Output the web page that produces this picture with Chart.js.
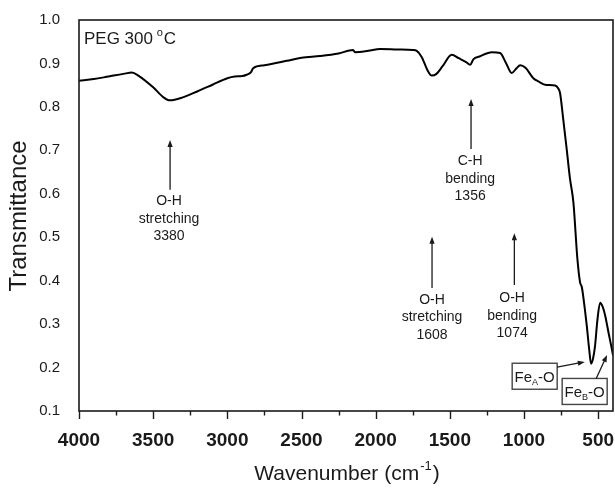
<!DOCTYPE html>
<html>
<head>
<meta charset="utf-8">
<script src="https://cdn.jsdelivr.net/npm/chart.js@4.4.1/dist/chart.umd.min.js"></script>
<style>
  html, body { margin: 0; padding: 0; background: #fff; }
  #wrap { width: 615px; height: 488px; }
</style>
</head>
<body>
<div id="wrap"><canvas id="ftirChart" width="615" height="488"></canvas></div>
<script>
// ---------------------------------------------
// Spectrum data
// ---------------------------------------------
const wavenumber = [
  4000, 3900, 3800, 3700, 3643, 3600, 3500, 3430, 3386, 3300,
  3200, 3100, 3000, 2950, 2900, 2870, 2840, 2826, 2750, 2600,
  2500, 2375, 2250, 2152, 2140, 2050, 1970, 1850, 1750, 1723,
  1690, 1650, 1622, 1590, 1550, 1487, 1440, 1390, 1363, 1340,
  1300, 1217, 1161, 1120, 1083, 1050, 1026, 990, 937, 900,
  858, 790, 770, 757, 735, 712, 690, 667, 640, 622,
  610, 590, 577, 560, 548, 535, 521, 505, 487, 470,
  453, 430, 408, 400
];
const transmittance = [
  0.860, 0.864, 0.870, 0.876, 0.879, 0.872, 0.845, 0.822, 0.815, 0.822,
  0.836, 0.851, 0.866, 0.870, 0.871, 0.874, 0.880, 0.889, 0.896, 0.906,
  0.913, 0.917, 0.923, 0.931, 0.926, 0.929, 0.933, 0.932, 0.931, 0.929,
  0.915, 0.884, 0.872, 0.876, 0.893, 0.920, 0.912, 0.903, 0.897, 0.910,
  0.916, 0.926, 0.924, 0.900, 0.878, 0.889, 0.896, 0.890, 0.866, 0.858,
  0.851, 0.849, 0.843, 0.832, 0.770, 0.702, 0.635, 0.580, 0.450, 0.396,
  0.385, 0.335, 0.297, 0.240, 0.209, 0.220, 0.250, 0.310, 0.349, 0.340,
  0.320, 0.280, 0.243, 0.228
];
const xTickLabels = [4000, 3500, 3000, 2500, 2000, 1500, 1000, 500];
const yTickLabels = ['0.1', '0.2', '0.3', '0.4', '0.5', '0.6', '0.7', '0.8', '0.9', '1.0'];

// peak labels: arrow x, arrow tail/tip (transmittance), text lines
const peakNotes = [
  { x: 3386, tail: 0.609, tip: 0.724, tx: 3393, ty: 0.582, lines: ['O-H', 'stretching', '3380'] },
  { x: 1357, tail: 0.703, tip: 0.818, tx: 1363, ty: 0.674, lines: ['C-H', 'bending', '1356'] },
  { x: 1620, tail: 0.383, tip: 0.501, tx: 1620, ty: 0.355, lines: ['O-H', 'stretching', '1608'] },
  { x: 1065, tail: 0.390, tip: 0.509, tx: 1080, ty: 0.359, lines: ['O-H', 'bending', '1074'] }
];
// boxed Fe-O labels
const feNotes = [
  { cx: 928, cy: 0.180, sub: 'A', from: [777, 0.201], to: [590, 0.213] },
  { cx: 591, cy: 0.145, sub: 'B', from: [514, 0.174], to: [440, 0.229] }
];

const FONT = '"Liberation Sans", Arial, sans-serif';
const INK = '#1a1a1a';

function arrow(ctx, x1, y1, x2, y2) {
  const ang = Math.atan2(y2 - y1, x2 - x1);
  const len = 7, half = 2.6;
  ctx.beginPath();
  ctx.moveTo(x1, y1);
  ctx.lineTo(x2 - Math.cos(ang) * len * 0.8, y2 - Math.sin(ang) * len * 0.8);
  ctx.stroke();
  ctx.beginPath();
  ctx.moveTo(x2, y2);
  ctx.lineTo(x2 - Math.cos(ang) * len - Math.sin(ang) * half, y2 - Math.sin(ang) * len + Math.cos(ang) * half);
  ctx.lineTo(x2 - Math.cos(ang) * len + Math.sin(ang) * half, y2 - Math.sin(ang) * len - Math.cos(ang) * half);
  ctx.closePath();
  ctx.fill();
}

// -------------------------------------------------
// Frame, ticks, axis titles and annotations
// -------------------------------------------------
const decorPlugin = {
  id: 'decor',
  afterDraw(chart) {
    const ctx = chart.ctx;
    const a = chart.chartArea;
    const xs = chart.scales.x, ys = chart.scales.y;
    ctx.save();

    // frame
    ctx.strokeStyle = INK;
    ctx.lineWidth = 1.6;
    ctx.strokeRect(a.left, a.top, a.right - a.left, a.bottom - a.top);

    // x ticks, outward (major every 500, minor every 250)
    ctx.lineWidth = 1.4;
    for (let v = 4000; v >= 400; v -= 250) {
      const px = Math.round(xs.getPixelForValue(v)) + 0.5;
      const major = v % 500 === 0;
      ctx.beginPath();
      ctx.moveTo(px, a.bottom);
      ctx.lineTo(px, a.bottom + (major ? 8 : 4.5));
      ctx.stroke();
    }

    // y title
    ctx.fillStyle = INK;
    ctx.font = '24px ' + FONT;
    ctx.textAlign = 'center';
    ctx.textBaseline = 'middle';
    ctx.save();
    ctx.translate(19, 216);
    ctx.rotate(-Math.PI / 2);
    ctx.fillText('Transmittance', 0, 0);
    ctx.restore();

    // x title with superscript
    ctx.textBaseline = 'alphabetic';
    ctx.textAlign = 'left';
    ctx.font = '21px ' + FONT;
    const t1 = 'Wavenumber (cm', t3 = ')';
    ctx.font = '13px ' + FONT;
    const wSup = ctx.measureText('-1').width;
    ctx.font = '21px ' + FONT;
    const w1 = ctx.measureText(t1).width, w3 = ctx.measureText(t3).width;
    let sx = (a.left + a.right) / 2 - (w1 + wSup + w3) / 2;
    const base = 480;
    ctx.fillText(t1, sx, base);
    ctx.font = '13px ' + FONT;
    ctx.fillText('-1', sx + w1 + 1, base - 10);
    ctx.font = '21px ' + FONT;
    ctx.fillText(t3, sx + w1 + wSup + 2, base);

    // sample label
    ctx.font = '17px ' + FONT;
    const lab = 'PEG 300 ';
    ctx.fillText(lab, 84, 44);
    const wl = ctx.measureText(lab).width;
    ctx.font = '11px ' + FONT;
    ctx.fillText('o', 84 + wl - 1, 36);
    ctx.font = '17px ' + FONT;
    ctx.fillText('C', 84 + wl + 6, 44);

    // peak arrows and text
    ctx.lineWidth = 1.3;
    ctx.font = '14px ' + FONT;
    ctx.textAlign = 'center';
    ctx.textBaseline = 'middle';
    peakNotes.forEach(n => {
      const px = xs.getPixelForValue(n.x);
      arrow(ctx, px, ys.getPixelForValue(n.tail), px, ys.getPixelForValue(n.tip));
      const tx = xs.getPixelForValue(n.tx);
      const ty = ys.getPixelForValue(n.ty);
      n.lines.forEach((s, i) => ctx.fillText(s, tx, ty + i * 17.3));
    });

    // Fe boxes
    feNotes.forEach(n => {
      const cx = xs.getPixelForValue(n.cx), cy = ys.getPixelForValue(n.cy);
      ctx.font = '15px ' + FONT;
      const wFe = ctx.measureText('Fe').width;
      const wO = ctx.measureText('-O').width;
      ctx.font = '9px ' + FONT;
      const wS = ctx.measureText(n.sub).width;
      const tw = wFe + wS + wO;
      const bw = 45, bh = 26;
      ctx.fillStyle = '#fff';
      ctx.fillRect(cx - bw / 2, cy - bh / 2, bw, bh);
      ctx.strokeStyle = '#444';
      ctx.lineWidth = 1.4;
      ctx.strokeRect(cx - bw / 2, cy - bh / 2, bw, bh);
      ctx.fillStyle = INK;
      ctx.textAlign = 'left';
      ctx.textBaseline = 'alphabetic';
      let lx = cx - tw / 2;
      ctx.font = '15px ' + FONT;
      ctx.fillText('Fe', lx, cy + 5.5);
      ctx.font = '9px ' + FONT;
      ctx.fillText(n.sub, lx + wFe, cy + 9);
      ctx.font = '15px ' + FONT;
      ctx.fillText('-O', lx + wFe + wS, cy + 5.5);
      ctx.strokeStyle = INK;
      ctx.lineWidth = 1.3;
      arrow(ctx, xs.getPixelForValue(n.from[0]), ys.getPixelForValue(n.from[1]),
        xs.getPixelForValue(n.to[0]), ys.getPixelForValue(n.to[1]));
    });

    ctx.restore();
  }
};

document.addEventListener('DOMContentLoaded', () => {
  const points = wavenumber.map((w, i) => ({ x: w, y: transmittance[i] }));
  const ctx = document.getElementById('ftirChart').getContext('2d');
  new Chart(ctx, {
    type: 'line',
    data: {
      datasets: [{
        data: points,
        borderColor: '#000',
        borderWidth: 2,
        pointRadius: 0,
        fill: false,
        cubicInterpolationMode: 'monotone'
      }]
    },
    options: {
      responsive: false,
      animation: false,
      devicePixelRatio: 1,
      layout: { padding: { left: 0, right: 2, top: 20, bottom: 0 } },
      plugins: { legend: { display: false }, tooltip: { enabled: false } },
      scales: {
        x: {
          type: 'linear',
          reverse: true,
          min: 400,
          max: 4000,
          grid: { display: false },
          border: { display: false },
          afterBuildTicks: s => { s.ticks = xTickLabels.map(v => ({ value: v })); },
          afterFit: s => { s.height = 77; s.paddingLeft = 0; s.paddingRight = 0; },
          ticks: {
            maxRotation: 0,
            autoSkip: false,
            padding: 10,
            color: INK,
            font: { family: FONT, size: 19, weight: 'bold' },
            callback: v => String(v)
          }
        },
        y: {
          min: 0.1,
          max: 1.0,
          grid: { display: false },
          border: { display: false },
          afterBuildTicks: s => { s.ticks = yTickLabels.map(v => ({ value: parseFloat(v) })); },
          afterFit: s => { s.width = 79; s.paddingTop = 0; s.paddingBottom = 0; },
          ticks: {
            padding: 11,
            color: INK,
            font: { family: FONT, size: 15 },
            callback: v => v.toFixed(1)
          }
        }
      }
    },
    plugins: [decorPlugin]
  });
});
</script>
</body>
</html>
